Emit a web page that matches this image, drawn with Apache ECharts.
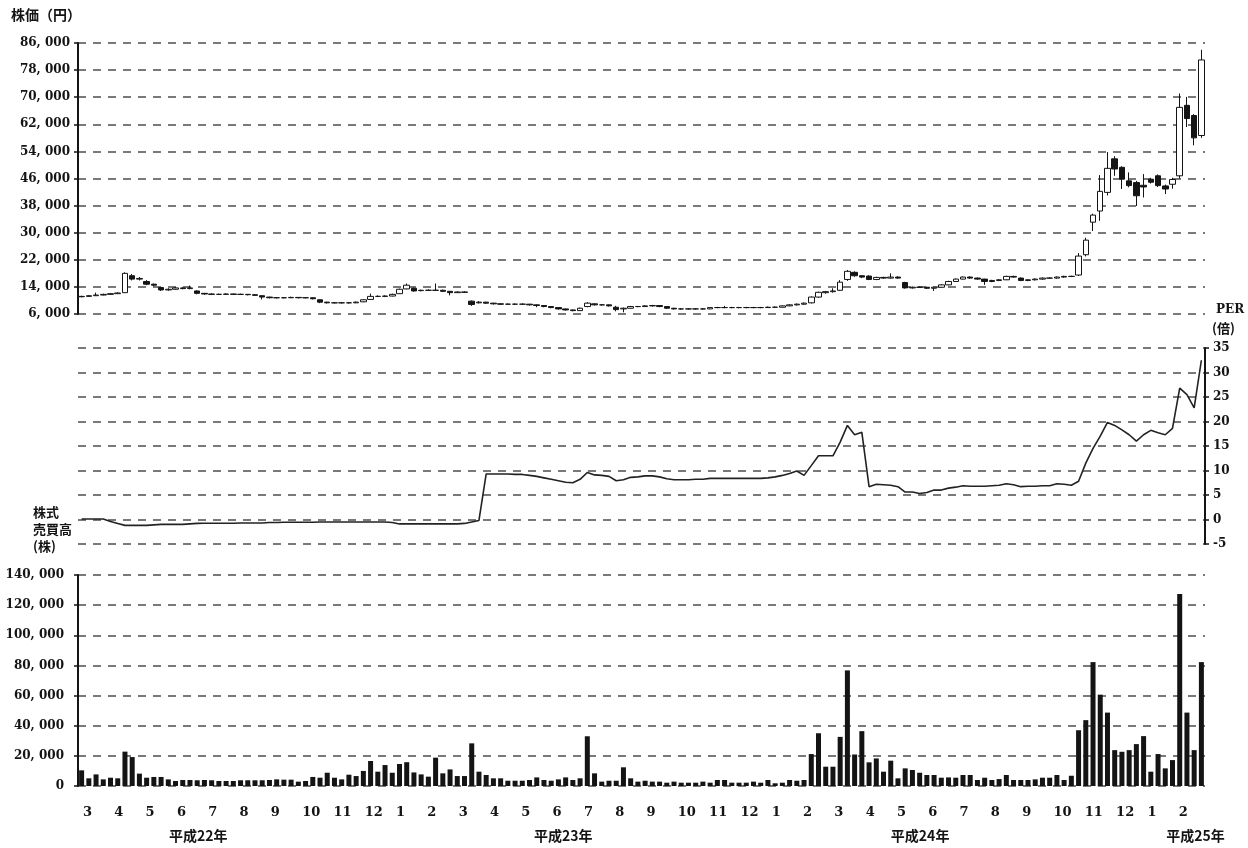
<!DOCTYPE html>
<html><head><meta charset="utf-8">
<script src="https://cdn.jsdelivr.net/npm/echarts@6/dist/echarts.min.js"></script>
<style>html,body{margin:0;padding:0;background:#fff}#c{width:1248px;height:848px}</style>
</head><body><div id="c"></div>
<script>
// ---- data ----
const monthTicks = [3,4,5,6,7,8,9,10,11,12, 1,2,3,4,5,6,7,8,9,10,11,12, 1,2,3,4,5,6,7,8,9,10,11,12, 1,2];
const weeksPerMonth = [4,5,4,4,5,4,4,5,4,5, 4,4,4,5,4,4,5,4,5,4,4,5, 4,4,5,4,4,5,4,5,4,4,5,4, 4,4];
const yearLabels = ['平成22年','平成23年','平成24年','平成25年'];

// weekly candles: [open, close, low, high]
const priceOHLC = [
[11100,11200,10900,11400],[11200,11400,11100,11600],[11400,11600,11300,12300],[11600,11800,11500,12000],
[11800,12000,11700,12200],[12000,12200,11900,12400],[12300,18000,12200,18300],[17300,16300,15900,17800],
[16300,16500,15900,16900],[15600,14800,14500,16000],[14800,14500,14200,15000],[13800,13100,12800,14000],
[13100,13300,12900,13600],[13300,13700,13200,14000],[13700,13500,13300,13900],[13500,13700,13300,14400],
[12800,12100,11800,13000],[12100,11900,11700,12200],[11900,11800,11600,12100],[11800,11800,11600,12000],
[11800,11900,11700,12100],[11900,11800,11600,12000],[11800,11800,11600,12000],[11800,11700,11500,11900],
[11700,11500,11300,11800],[11400,11000,10300,11500],[11000,10800,10600,11100],[10800,10800,10600,11000],
[10800,10800,10600,11000],[10800,10900,10700,11100],[10900,10800,10600,11000],[10800,10800,10600,11000],
[10800,10500,10300,10900],[10200,9500,9200,10300],[9500,9300,9100,9600],[9300,9300,9100,9500],
[9300,9300,9100,9500],[9300,9300,9100,9500],[9300,9500,9200,9700],[9600,10200,9500,10400],
[10300,11200,10200,12000],[11200,11200,11000,11500],[11200,11300,11000,11500],[11300,11800,11200,12000],
[12000,13300,11900,13500],[13400,14500,13300,15000],[13600,12800,12600,13800],[12900,13000,12700,13200],
[13000,13000,12800,13300],[13000,13000,12800,15000],[13000,12700,12500,13200],[12700,12300,11500,12800],
[12300,12500,12200,12700],[12500,12400,12200,12700],[9800,8800,8400,10000],[9300,9500,9100,9800],
[9500,9200,9000,9600],[9200,9000,8800,9300],[9000,8900,8700,9100],[8900,8900,8700,9100],
[8900,8900,8700,9100],[8900,8900,8700,9100],[8900,8700,8500,9000],[8700,8500,8000,8800],
[8500,8200,8000,8600],[8200,7900,7700,8300],[7900,7500,7300,8000],[7500,7200,7000,7600],
[7200,7000,6800,7300],[7000,7700,6900,7900],[8200,9200,8000,9500],[9000,8700,8500,9100],
[8700,8700,8500,8900],[8700,8400,8200,8800],[8000,7300,6800,8400],[7500,7700,6500,7900],
[7700,8200,7600,8400],[8200,8200,8000,8400],[8200,8400,8100,8600],[8400,8500,8200,8700],
[8500,8200,8000,8600],[8200,7700,7500,8300],[7700,7500,7300,7800],[7500,7500,7300,7700],
[7500,7500,7300,7700],[7500,7500,7300,7700],[7500,7500,7300,7700],[7500,7900,7400,8000],
[7900,7900,7700,8100],[7900,7900,7700,8400],[7900,7900,7700,8100],[7900,7900,7700,8100],
[7900,7900,7700,8100],[7900,7900,7700,8100],[7900,7900,7700,8100],[7900,8000,7800,8200],
[8000,8000,7800,8200],[8000,8400,7900,8500],[8400,8700,8300,8900],[8700,8900,8500,9100],
[8900,9200,8700,9400],[9300,11000,9100,11200],[11000,12400,10800,12600],[12300,12600,12000,12800],
[12600,12800,12300,13600],[13000,15400,12800,16000],[16200,18600,15800,19000],[18300,17300,17000,18600],
[17300,16900,16600,17400],[17200,16200,16000,17400],[16200,16800,16000,17000],[16800,16600,16400,17000],
[16600,16900,16400,18000],[16900,16600,16400,17100],[15300,13700,13500,15500],[13700,13900,13500,14100],
[13900,13900,13700,14100],[13900,13600,13400,14000],[13600,13900,12800,14000],[13900,14600,13800,14800],
[14600,15600,14500,15800],[15600,16300,15500,16500],[16300,16900,16200,17100],[16900,16600,16400,17100],
[16600,16300,16100,16800],[16300,15600,14600,16400],[15600,15900,15400,16100],[15900,16100,15700,16300],
[16100,17100,16000,17300],[17100,16900,16700,17300],[16600,15900,15700,16800],[15900,16100,15700,16300],
[16100,16300,15900,16500],[16300,16600,16100,16800],[16600,16600,16400,16800],[16600,16900,16400,17100],
[16900,17100,16700,17300],[17100,17100,16900,17300],[17500,23100,17200,24000],[23500,27800,23000,28500],
[33100,35200,30500,35600],[36400,42200,33500,47000],[41900,49000,41000,53800],[51800,48800,46800,52600],
[49300,45800,42900,49600],[45300,43900,43400,47800],[44800,40900,37900,45300],[44000,43500,40400,47300],
[45800,44900,44500,46200],[46800,43900,43500,47200],[43800,42900,41400,44200],[44300,45700,43000,46200],
[46800,67000,46000,71100],[67600,63700,61200,70100],[64600,58000,55800,65000],[58700,81000,58000,84000]
];

const perValues = [
0.1,0.1,0.1,0.1,-0.4,-0.8,-1.2,-1.2,-1.2,-1.2,-1.1,-1.0,-1.0,-1.0,-1.0,-0.9,-0.8,-0.75,-0.75,-0.75,
-0.75,-0.75,-0.7,-0.7,-0.7,-0.7,-0.6,-0.6,-0.55,-0.55,-0.55,-0.55,-0.55,-0.5,-0.5,-0.5,-0.5,-0.5,-0.5,-0.5,
-0.5,-0.5,-0.5,-0.6,-0.9,-0.9,-0.9,-0.9,-0.9,-0.9,-0.9,-0.9,-0.9,-0.8,-0.5,-0.2,
9.3,9.3,9.3,9.3,9.2,9.2,9.0,8.8,8.5,8.2,7.9,7.6,7.5,8.2,9.6,9.1,9.0,8.8,7.9,8.1,
8.6,8.7,8.9,8.9,8.7,8.3,8.1,8.1,8.1,8.2,8.2,8.4,8.4,8.4,8.4,8.4,8.4,8.4,8.4,8.5,
8.7,9.0,9.4,9.9,9.0,11.0,13.0,13.0,13.0,15.8,19.2,17.3,17.8,
6.7,7.2,7.1,7.0,6.7,5.6,5.6,5.3,5.5,6.0,6.0,6.4,6.6,6.9,6.8,6.8,6.8,6.9,7.0,7.3,
7.1,6.7,6.8,6.8,6.9,6.9,7.3,7.2,7.0,7.8,11.5,14.5,17.0,19.8,19.2,18.3,17.3,16.0,17.3,18.2,
17.7,17.3,18.6,26.8,25.5,22.8,32.5
];

const volumeValues = [
10400,5100,7700,4400,5500,5100,22800,19200,8200,5500,6000,6000,4400,3300,4000,4000,3800,4000,3800,3300,
3300,3300,3800,3800,3800,3800,4000,4400,4200,4200,2900,3300,6000,5500,8800,5500,4400,7500,6600,10000,
16600,9500,13900,8800,14600,15800,9000,7700,6200,18800,8400,11000,6600,6600,28300,9500,7300,5100,5100,3500,
3500,3500,4000,5700,4000,3500,4400,5700,4000,5100,33000,8400,2900,3500,3500,12400,5100,2900,3500,2900,
2900,2200,2900,2200,2200,2200,2900,2200,4000,4000,2200,2200,2200,2900,2200,4000,1800,2200,4000,3500,
4000,21200,35000,12800,12800,32600,76700,20900,36400,15700,18300,9500,16800,5100,11700,10600,8800,7300,7300,5500,
5700,5500,7300,7300,4000,5500,4000,4600,7300,4000,4000,4000,4400,5500,5500,7300,4000,6800,37000,43700,
82200,60600,48700,23800,22700,23800,27800,33100,9500,21200,11700,17200,127400,48700,23800,82200
];

// ---- categories (one per week) ----
const weeks = [];
weeksPerMonth.forEach((n, m) => {
  const yr = 2010 + Math.floor((m + 2) / 12);
  for (let w = 1; w <= n; w++) weeks.push(yr + '/' + monthTicks[m] + '-' + w);
});

// ---- layout / style ----
const yearLabelAt = [3.84, 15.5, 26.9, 35.7]; // month units along the axis
const INK = '#141414';
const serif = {fontFamily: 'DejaVu Serif', fontWeight: 'bold', fontSize: 12, color: INK};
const cjk = 'Noto Sans CJK JP';
const dash = {type: [8, 7], color: '#4d4d4d', width: 1.6};
const axisLine = {show: true, lineStyle: {color: INK, width: 2}};
const axisTick = {show: true, length: 4, lineStyle: {color: INK, width: 1.5}};
function fmt(v) {
  if (v === 0) return '0';
  if (Math.abs(v) < 1000) return String(v);
  return Math.floor(v / 1000) + ', ' + String(v % 1000).padStart(3, '0');
}

const chart = echarts.init(document.getElementById('c'), null, {renderer: 'canvas'});
chart.setOption({
  animation: false,
  backgroundColor: '#fff',
  grid: [
    {left: 78, right: 43, top: 43, height: 271, outerBoundsMode: 'none', containLabel: false},
    {left: 78, right: 43, top: 348, height: 196, outerBoundsMode: 'none', containLabel: false},
    {left: 78, right: 43, top: 575, height: 211, outerBoundsMode: 'none', containLabel: false}
  ],
  xAxis: [
    {type: 'category', gridIndex: 0, data: weeks, show: false},
    {type: 'category', gridIndex: 1, data: weeks, show: false},
    {type: 'category', gridIndex: 2, data: weeks, show: false},
    {type: 'value', gridIndex: 2, min: 0, max: 36, interval: 1, position: 'bottom',
     axisLine: {show: false}, axisTick: {show: false}, splitLine: {show: false},
     axisLabel: Object.assign({}, serif, {fontSize: 13, margin: 20, align: 'left', padding: [0, 0, 0, 5],
       formatter: v => (v < 36 ? String(monthTicks[v]) : '')})},
    {type: 'value', gridIndex: 2, min: 0, max: 36, position: 'bottom',
     axisLine: {show: false}, axisTick: {show: false}, splitLine: {show: false},
     axisLabel: {customValues: yearLabelAt, margin: 43, fontFamily: cjk, fontWeight: 'bold', fontSize: 14, color: INK,
       formatter: v => yearLabels[yearLabelAt.indexOf(v)] || ''}}
  ],
  yAxis: [
    {type: 'value', gridIndex: 0, min: 6000, max: 86000, interval: 8000, position: 'left',
     axisLine, axisTick, splitLine: {show: true, lineStyle: dash},
     axisLabel: Object.assign({}, serif, {margin: 8, formatter: fmt})},
    {type: 'value', gridIndex: 1, min: -5, max: 35, interval: 5, position: 'right',
     axisLine, axisTick, splitLine: {show: true, lineStyle: dash},
     axisLabel: Object.assign({}, serif, {margin: 8})},
    {type: 'value', gridIndex: 2, min: 0, max: 140000, interval: 20000, position: 'left',
     axisLine, axisTick, splitLine: {show: true, lineStyle: dash},
     axisLabel: Object.assign({}, serif, {margin: 14, formatter: fmt})}
  ],
  series: [
    {type: 'candlestick', xAxisIndex: 0, yAxisIndex: 0, data: priceOHLC, barWidth: 6,
     itemStyle: {color: '#ffffff', color0: INK, borderColor: INK, borderColor0: INK, borderWidth: 1}},
    {type: 'line', xAxisIndex: 1, yAxisIndex: 1, data: perValues, showSymbol: false, symbol: 'none',
     lineStyle: {color: '#222', width: 1.6}},
    {type: 'bar', xAxisIndex: 2, yAxisIndex: 2, data: volumeValues, barWidth: 5,
     itemStyle: {color: INK}}
  ],
  graphic: [
    {type: 'text', left: 11, top: 8, style: {text: '株価（円）', font: 'bold 14px "Noto Sans CJK JP"', fill: INK}},
    {type: 'text', left: 1216, top: 304, style: {text: 'PER', font: 'bold 12px "DejaVu Serif"', fill: INK}},
    {type: 'text', left: 1212, top: 322, style: {text: '(倍)', font: 'bold 13px "Noto Sans CJK JP"', fill: INK}},
    {type: 'text', left: 33, top: 504, style: {text: '株式\n売買高\n(株)', font: 'bold 13px "Noto Sans CJK JP"',
      fill: INK, align: 'center', lineHeight: 17}}
  ]
});
</script>
</body></html>
